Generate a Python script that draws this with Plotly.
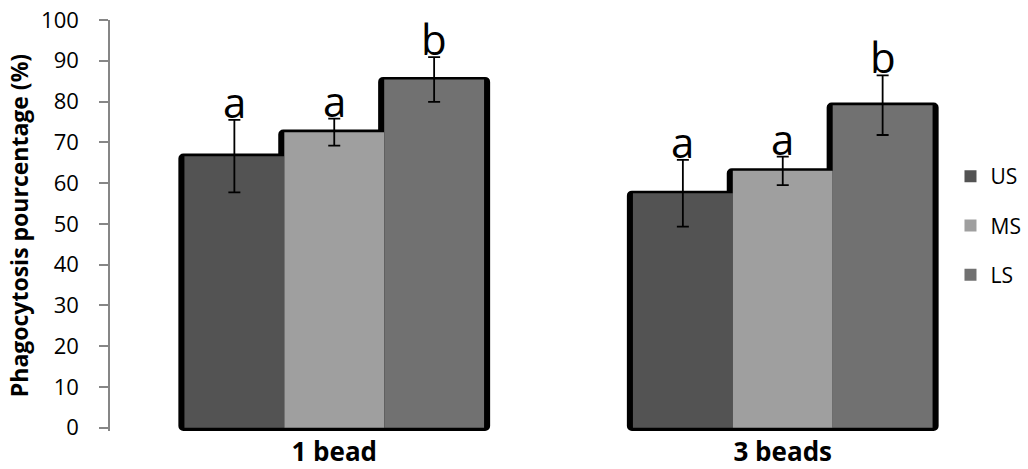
import plotly.graph_objects as go

categories = ["1 bead", "3 beads"]
series = ["US", "MS", "LS"]
values = {
    "US": [66.6, 57.5],
    "MS": [72.5, 63.0],
    "LS": [85.4, 79.1],
}
errors = {
    "US": [8.9, 8.2],
    "MS": [3.3, 3.5],
    "LS": [5.5, 7.3],
}
letters = {
    "US": ["a", "a"],
    "MS": ["a", "a"],
    "LS": ["b", "b"],
}
colors = {"US": "#535353", "MS": "#9f9f9f", "LS": "#717171"}
yticks = list(range(0, 101, 10))

FONT = "Open Sans"
bar_w = 0.2227          # width of one bar (category units)
shadow_x = 0.0135       # horizontal shadow extension
shadow_top = 0.65       # vertical shadow extension (data units)
shadow_base = -0.8

xpos = list(range(len(categories)))
fig = go.Figure()

# shadows first
for i, s in enumerate(series):
    off = -1.5 * bar_w + i * bar_w
    fig.add_trace(go.Bar(
        x=xpos, y=[v + shadow_top - shadow_base for v in values[s]], base=shadow_base,
        width=bar_w + 2 * shadow_x, offset=off - shadow_x,
        marker=dict(color="black", line=dict(width=0), cornerradius=5),
        showlegend=False, hoverinfo="skip",
    ))

for i, s in enumerate(series):
    off = -1.5 * bar_w + i * bar_w
    fig.add_trace(go.Bar(
        x=xpos, y=values[s], name=s, width=bar_w, offset=off,
        marker=dict(color=colors[s], line=dict(width=0)),
        error_y=dict(type="data", array=errors[s], visible=True,
                     color="black", thickness=1.8, width=6),
        legendgroup=s,
    ))
    for j, c in enumerate(categories):
        fig.add_annotation(
            x=xpos[j] + off + bar_w / 2, y=values[s][j] + errors[s][j],
            text=letters[s][j], showarrow=False, yanchor="bottom",
            yshift=-12, font=dict(family=FONT, size=42, color="black"),
        )

fig.update_layout(
    barmode="overlay",
    width=1028, height=469,
    margin=dict(l=110, r=21, t=20, b=38, autoexpand=False),
    paper_bgcolor="white", plot_bgcolor="white",
    font=dict(family=FONT, color="black"),
    showlegend=True,
    legend=dict(x=0.937, xanchor="left", y=0.5, yanchor="middle",
                font=dict(family=FONT, size=21, color="black"),
                traceorder="grouped", tracegroupgap=19,
                bgcolor="rgba(0,0,0,0)"),
    xaxis=dict(range=[-0.5, 1.5], tickvals=xpos, ticktext=categories,
               showgrid=False, zeroline=False, showline=False, ticks="",
               automargin=False,
               tickfont=dict(family=FONT, size=26, color="black", weight="bold"),
               ticklabelstandoff=3),
    yaxis=dict(range=[-0.8, 100], tickvals=yticks, showgrid=False, zeroline=False,
               showline=True, linecolor="#868686", linewidth=1.5,
               ticks="outside", ticklen=9, tickcolor="#868686", tickwidth=1.5,
               ticklabelstandoff=16, automargin=False,
               tickfont=dict(family=FONT, size=22, color="black"),
               title=dict(text="Phagocytosis pourcentage (%)", standoff=6,
                          font=dict(family=FONT, size=23, color="black", weight="bold"))),
)

fig.write_html("out.html")
